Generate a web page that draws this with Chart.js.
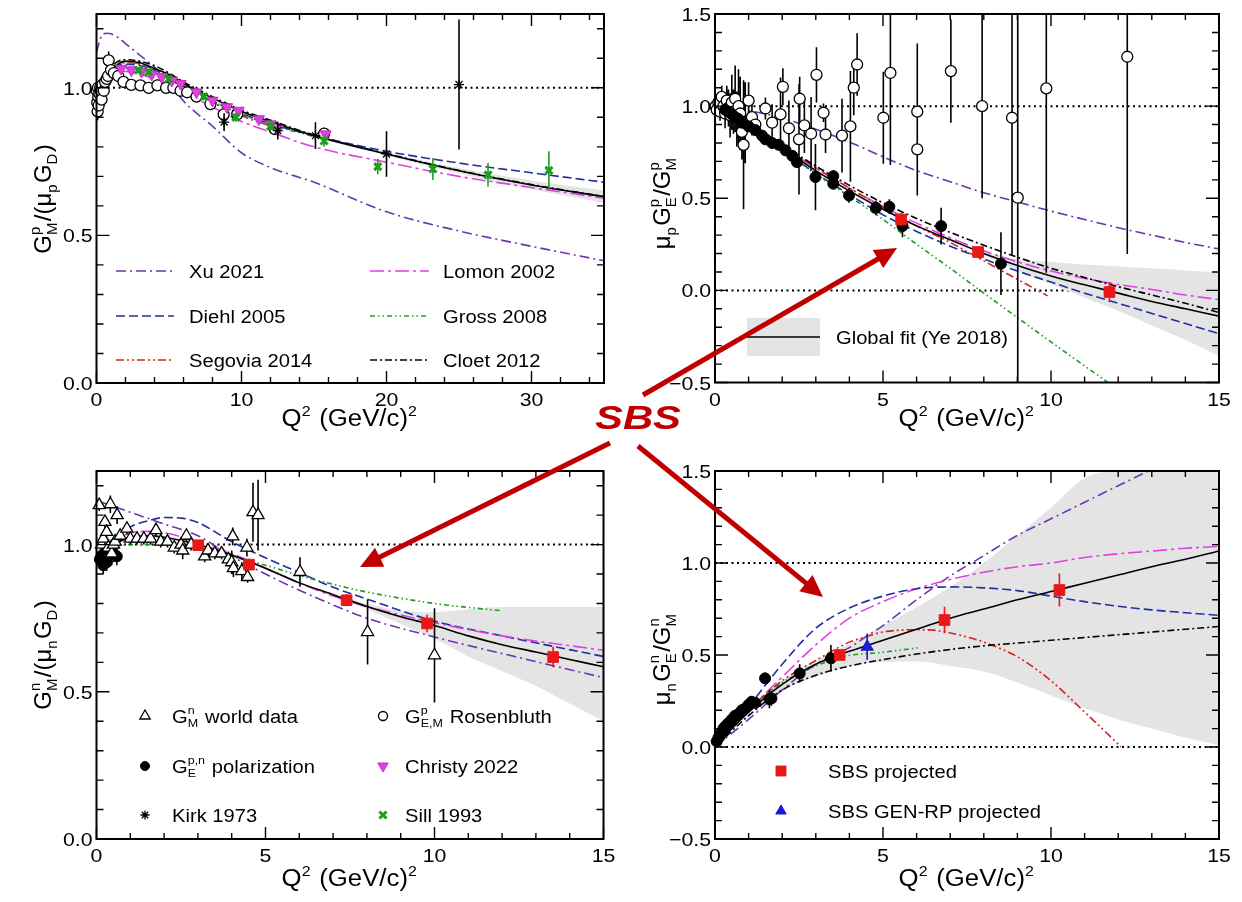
<!DOCTYPE html>
<html lang="en">
<head>
<meta charset="utf-8">
<title>Nucleon form factor ratios</title>
<script src="https://cdn.jsdelivr.net/npm/chart.js@4.4.1/dist/chart.umd.min.js"></script>
<style>
  html, body { margin: 0; padding: 0; background: #fff; }
  #page { position: relative; width: 1242px; height: 902px; overflow: hidden; background: #fff; }
  #page canvas, #page svg { position: absolute; left: 0; top: 0; }
</style>
</head>
<body>
<div id="page">
  <canvas id="gmp" width="1242" height="902"></canvas>
  <canvas id="rp" width="1242" height="902"></canvas>
  <canvas id="gmn" width="1242" height="902"></canvas>
  <canvas id="rn" width="1242" height="902"></canvas>
  <svg id="callout" width="1242" height="902" viewBox="0 0 1242 902"></svg>
</div>
<script>
// ================= Top-left: proton magnetic form factor G_M^p/(mu_p G_D) =================
const gmpCurveQ2 = [0, 0.5, 1, 1.5, 2, 3, 4, 5, 6, 8, 10, 12, 15, 20, 25, 30, 35];
const gmpGlobal  = [1.0, 1.03, 1.06, 1.08, 1.09, 1.085, 1.065, 1.045, 1.015, 0.965, 0.92, 0.885, 0.838, 0.776, 0.719, 0.671, 0.631];
const gmpBandHi  = [1.005, 1.035, 1.065, 1.085, 1.095, 1.09, 1.07, 1.05, 1.02, 0.97, 0.925, 0.89, 0.843, 0.782, 0.728, 0.686, 0.652];
const gmpBandLo  = [0.995, 1.025, 1.055, 1.075, 1.085, 1.08, 1.06, 1.04, 1.01, 0.96, 0.915, 0.88, 0.833, 0.77, 0.71, 0.656, 0.61];
const gmpCloet   = [1.0, 1.04, 1.07, 1.09, 1.095, 1.09, 1.075, 1.05, 1.02, 0.97, 0.925, 0.89, 0.84, 0.777, 0.72, 0.672, 0.632];
const gmpDiehl   = [1.0, 1.03, 1.06, 1.075, 1.08, 1.075, 1.06, 1.035, 1.005, 0.955, 0.912, 0.878, 0.838, 0.785, 0.745, 0.712, 0.68];
const gmpLomon   = [1.0, 1.03, 1.05, 1.055, 1.055, 1.045, 1.03, 1.01, 0.985, 0.935, 0.886, 0.85, 0.80, 0.748, 0.70, 0.662, 0.626];
const gmpGrossQ2 = [0, 0.5, 1, 1.5, 2, 3, 4, 5, 6, 8, 10, 12, 15];
const gmpGross   = [1.0, 1.04, 1.07, 1.085, 1.09, 1.08, 1.06, 1.04, 1.01, 0.955, 0.91, 0.875, 0.835];
const gmpSegoviaQ2 = [0, 0.5, 1, 1.5, 2, 3, 4, 5, 6, 8, 10, 12];
const gmpSegovia   = [1.0, 1.035, 1.065, 1.08, 1.085, 1.08, 1.06, 1.035, 1.0, 0.95, 0.905, 0.87];
const gmpXuQ2 = [0, 0.3, 0.7, 1, 1.5, 2, 3, 4, 5, 6, 8, 10, 12, 15, 20, 25, 30, 35];
const gmpXu   = [1.12, 1.17, 1.185, 1.183, 1.17, 1.15, 1.11, 1.07, 1.02, 0.955, 0.87, 0.78, 0.73, 0.68, 0.58, 0.515, 0.463, 0.414];

const gmpRosQ2 = [0.02, 0.05, 0.08, 0.1, 0.12, 0.15, 0.2, 0.25, 0.3, 0.35,
                  0.4, 0.5, 0.6, 0.7, 0.8, 0.84, 1.0, 1.2, 1.5, 1.86,
                  2.4, 3.03, 3.6, 4.2, 4.8, 5.3, 5.8, 6.25, 6.9, 7.86,
                  8.77, 9.7, 12.3, 15.7];
const gmpRos    = [0.99, 0.95, 0.92, 1.0, 0.97, 0.94, 0.98, 1.0, 0.99, 0.96,
                   1.01, 0.99, 1.02, 1.03, 1.04, 1.093, 1.06, 1.05, 1.04, 1.02,
                   1.01, 1.008, 1.0, 1.008, 1.0, 1.0, 0.99, 0.985, 0.97, 0.945,
                   0.91, 0.91, 0.86, 0.845];
const gmpRosErr = [0.01, 0.02, 0.03, 0.02, 0.02, 0.03, 0.02, 0.02, 0.02, 0.03,
                   0.02, 0.02, 0.02, 0.02, 0.02, 0.03, 0.02, 0.02, 0.015, 0.01,
                   0.01, 0.01, 0.01, 0.01, 0.01, 0.01, 0.01, 0.01, 0.01, 0.015,
                   0.02, 0.02, 0.02, 0.02];
const gmpChristyQ2 = [1.7, 2.4, 3.1, 3.8, 4.5, 5.2, 5.8, 6.9, 8.0, 9.0, 9.8, 11.2, 12.0, 12.5, 15.8];
const gmpChristy   = [1.065, 1.06, 1.055, 1.045, 1.037, 1.025, 1.014, 0.985, 0.957, 0.935, 0.923, 0.894, 0.877, 0.86, 0.843];
const gmpSillQ2  = [2.9, 3.6, 4.97, 7.4, 9.6, 12.0, 15.7, 19.4, 23.2, 27.0, 31.2];
const gmpSill    = [1.06, 1.054, 1.03, 0.97, 0.90, 0.87, 0.82, 0.733, 0.725, 0.705, 0.72];
const gmpSillErr = [0.01, 0.01, 0.01, 0.012, 0.015, 0.015, 0.02, 0.026, 0.037, 0.04, 0.065];
const gmpKirkQ2  = [8.8, 12.5, 15.1, 20.0, 25.0];
const gmpKirk    = [0.884, 0.855, 0.838, 0.776, 1.011];
const gmpKirkErr = [0.03, 0.03, 0.045, 0.077, 0.22];

// ================= Top-right: proton ratio mu_p G_E^p/G_M^p =================
const rpCurveQ2 = [0, 1, 2, 3, 4, 5, 6, 7, 8, 9, 10, 11, 12, 13, 14, 15];
const rpGlobal  = [1.0, 0.9, 0.775, 0.65, 0.54, 0.44, 0.35, 0.275, 0.2, 0.135, 0.078, 0.03, -0.015, -0.06, -0.1, -0.14];
const rpBandHi  = [1.005, 0.905, 0.78, 0.655, 0.545, 0.445, 0.355, 0.28, 0.21, 0.17, 0.155, 0.14, 0.13, 0.12, 0.108, 0.096];
const rpBandLo  = [0.995, 0.895, 0.77, 0.645, 0.535, 0.435, 0.345, 0.27, 0.19, 0.105, 0.035, -0.04, -0.11, -0.19, -0.27, -0.356];
const rpXu      = [1.0, 0.975, 0.935, 0.875, 0.805, 0.725, 0.65, 0.59, 0.53, 0.48, 0.43, 0.385, 0.34, 0.3, 0.26, 0.225];
const rpLomon   = [1.0, 0.9, 0.78, 0.665, 0.555, 0.455, 0.365, 0.285, 0.215, 0.155, 0.105, 0.065, 0.032, 0.005, -0.025, -0.05];
const rpDiehl   = [1.0, 0.89, 0.765, 0.635, 0.52, 0.41, 0.32, 0.24, 0.17, 0.105, 0.045, -0.015, -0.07, -0.125, -0.18, -0.235];
const rpCloet   = [1.0, 0.91, 0.79, 0.675, 0.57, 0.475, 0.39, 0.315, 0.245, 0.18, 0.12, 0.07, 0.02, -0.025, -0.07, -0.12];
const rpGrossQ2 = [0, 1, 2, 3, 4, 5, 6, 7, 8, 9, 10, 11, 11.7];
const rpGross   = [1.0, 0.88, 0.76, 0.63, 0.51, 0.385, 0.25, 0.12, -0.015, -0.148, -0.28, -0.41, -0.5];
const rpSegoviaQ2 = [0, 1, 2, 3, 4, 5, 6, 7, 8, 9, 9.9];
const rpSegovia   = [1.0, 0.9, 0.785, 0.665, 0.555, 0.45, 0.35, 0.26, 0.16, 0.06, -0.03];

const rpRosQ2 = [0.02, 0.05, 0.1, 0.15, 0.2, 0.25, 0.3, 0.35, 0.4, 0.45,
                 0.5, 0.55, 0.6, 0.65, 0.7, 0.75, 0.8, 0.85, 0.9, 1.0,
                 1.1, 1.2, 1.5, 1.7, 1.95, 2.02, 2.2, 2.5, 2.52, 2.66,
                 2.86, 3.02, 3.23, 3.29, 3.78, 4.03, 4.13, 4.23, 5.01, 5.22,
                 6.02, 6.02, 7.02, 7.95, 8.84, 9.01, 9.86, 12.27];
const rpRos    = [1.0, 0.98, 1.02, 0.97, 1.05, 1.0, 0.96, 1.03, 0.99, 0.95,
                  1.02, 0.97, 1.04, 0.93, 1.0, 0.96, 0.86, 0.79, 0.91, 1.03,
                  0.94, 0.9, 0.987, 0.91, 0.955, 1.105, 0.88, 0.82, 1.04, 0.895,
                  0.85, 1.17, 0.964, 0.846, 0.84, 0.89, 1.10, 1.226, 0.937, 1.18,
                  0.97, 0.765, 1.19, 1.0, 0.937, 0.503, 1.096, 1.268];
const rpRosErr = [0.02, 0.03, 0.04, 0.05, 0.06, 0.05, 0.08, 0.08, 0.1, 0.12,
                  0.15, 0.12, 0.18, 0.15, 0.2, 0.2, 0.15, 0.35, 0.22, 0.1,
                  0.1, 0.06, 0.06, 0.1, 0.2, 0.1, 0.15, 0.3, 0.12, 0.15,
                  0.2, 0.15, 0.05, 0.1, 0.2, 0.3, 0.15, 0.17, 0.25, 0.5,
                  0.37, 0.25, 0.28, 0.5, 0.75, 3.0, 1.0, 1.07];
const rpPolQ2  = [0.3, 0.4, 0.5, 0.6, 0.7, 0.8, 1.0, 1.2, 1.4, 1.5,
                  1.7, 1.9, 2.1, 2.3, 2.44, 2.99, 3.52, 3.52, 3.99, 4.79,
                  5.19, 5.58, 6.73, 8.51];
const rpPol    = [0.98, 0.97, 0.955, 0.94, 0.93, 0.91, 0.89, 0.87, 0.84, 0.82,
                  0.80, 0.79, 0.76, 0.73, 0.696, 0.615, 0.62, 0.579, 0.515, 0.448,
                  0.454, 0.349, 0.349, 0.145];
const rpPolErr = [0.02, 0.02, 0.02, 0.03, 0.03, 0.02, 0.02, 0.02, 0.02, 0.02,
                  0.03, 0.03, 0.03, 0.03, 0.03, 0.18, 0.03, 0.03, 0.04, 0.04,
                  0.04, 0.06, 0.1, 0.17];
const rpSbsQ2  = [5.54, 7.83, 11.74];
const rpSbs    = [0.385, 0.208, -0.009];
const rpSbsErr = [0.035, 0.03, 0.055];

// ================= Bottom-left: neutron magnetic form factor G_M^n/(mu_n G_D) =================
const gmnCurveQ2 = [0, 0.5, 1, 1.5, 2, 3, 4, 5, 6, 7, 8, 9, 10, 11, 12, 13, 14, 15];
const gmnGlobal  = [0.97, 1.0, 1.025, 1.03, 1.025, 1.0, 0.965, 0.92, 0.87, 0.83, 0.79, 0.755, 0.725, 0.69, 0.66, 0.635, 0.61, 0.585];
const gmnBandHi  = [0.975, 1.005, 1.03, 1.035, 1.03, 1.005, 0.97, 0.925, 0.875, 0.835, 0.80, 0.775, 0.77, 0.78, 0.788, 0.788, 0.788, 0.788];
const gmnBandLo  = [0.965, 0.995, 1.02, 1.025, 1.02, 0.995, 0.96, 0.915, 0.865, 0.825, 0.78, 0.73, 0.68, 0.62, 0.57, 0.52, 0.46, 0.40];
const gmnXuQ2 = [0, 0.5, 1, 2, 3, 4, 5, 6, 7, 8, 10, 12, 15];
const gmnXu   = [1.15, 1.13, 1.11, 1.07, 1.03, 0.96, 0.9, 0.845, 0.795, 0.75, 0.686, 0.63, 0.548];
const gmnDiehlQ2 = [0, 0.5, 1, 1.5, 2, 2.5, 3, 4, 5, 6, 7, 8, 10, 12, 15];
const gmnDiehl   = [0.97, 1.02, 1.06, 1.08, 1.092, 1.09, 1.075, 1.01, 0.955, 0.905, 0.855, 0.815, 0.74, 0.69, 0.62];
const gmnLomonQ2 = [0, 0.5, 1, 1.5, 2, 3, 4, 5, 6, 7, 8, 10, 12, 15];
const gmnLomon   = [0.97, 1.01, 1.04, 1.045, 1.04, 1.01, 0.97, 0.92, 0.87, 0.825, 0.79, 0.735, 0.69, 0.641];
const gmnGrossQ2 = [0, 0.5, 1, 2, 3, 4, 5, 6, 7, 8, 10, 12];
const gmnGross   = [0.96, 0.99, 1.0, 1.0, 0.99, 0.96, 0.93, 0.895, 0.865, 0.839, 0.80, 0.775];

const gmnWorldQ2 = [0.08, 0.15, 0.2, 0.25, 0.3, 0.35, 0.41, 0.45, 0.5, 0.55,
                    0.61, 0.7, 0.9, 1.0, 1.2, 1.4, 1.6, 1.76, 1.9, 2.1,
                    2.3, 2.5, 2.55, 2.66, 2.8, 3.2, 3.3, 3.5, 3.7, 3.9,
                    4.0, 4.03, 4.05, 4.3, 4.45, 4.47, 4.63, 4.78, 6.02, 8.02,
                    10.0];
const gmnWorld    = [1.134, 1.0, 1.02, 1.077, 1.043, 0.99, 1.137, 0.97, 1.0, 1.01,
                     1.10, 1.03, 1.054, 1.02, 1.02, 1.02, 1.02, 1.049, 1.01, 1.01,
                     0.99, 1.0, 0.98, 1.03, 1.0, 0.96, 0.98, 0.97, 0.97, 0.95,
                     0.94, 1.028, 0.92, 0.91, 0.99, 0.89, 1.11, 1.10, 0.907, 0.703,
                     0.624];
const gmnWorldErr = [0.02, 0.02, 0.02, 0.02, 0.02, 0.03, 0.03, 0.04, 0.02, 0.02,
                     0.03, 0.02, 0.02, 0.02, 0.02, 0.02, 0.02, 0.02, 0.02, 0.02,
                     0.02, 0.02, 0.03, 0.02, 0.02, 0.02, 0.02, 0.02, 0.02, 0.02,
                     0.04, 0.03, 0.03, 0.03, 0.03, 0.02, 0.1, 0.12, 0.05, 0.11,
                     0.16];
const gmnPolQ2  = [0.1, 0.15, 0.2, 0.25, 0.3, 0.35, 0.4, 0.5, 0.6];
const gmnPol    = [0.95, 0.96, 0.93, 0.97, 0.94, 0.96, 0.98, 0.97, 0.96];
const gmnPolErr = [0.03, 0.03, 0.03, 0.03, 0.03, 0.03, 0.03, 0.03, 0.03];
const gmnSbsQ2  = [3.01, 4.51, 7.4, 9.78, 13.51];
const gmnSbs    = [0.998, 0.932, 0.811, 0.732, 0.618];
const gmnSbsErr = [0.015, 0.02, 0.02, 0.03, 0.035];

// ================= Bottom-right: neutron ratio mu_n G_E^n/G_M^n =================
const rnCurveQ2 = [0, 0.5, 1, 1.5, 2, 2.5, 3, 4, 5, 6, 7, 8, 9, 10, 11, 12, 13, 14, 15];
const rnGlobal  = [0, 0.1, 0.19, 0.27, 0.34, 0.4, 0.45, 0.52, 0.58, 0.64, 0.7, 0.75, 0.8, 0.845, 0.89, 0.935, 0.98, 1.02, 1.065];
const rnBandHi  = [0, 0.1, 0.2, 0.29, 0.36, 0.42, 0.47, 0.56, 0.66, 0.76, 0.87, 1.0, 1.15, 1.3, 1.46, 1.5, 1.5, 1.5, 1.5];
const rnBandLo  = [0, 0.1, 0.18, 0.25, 0.3, 0.35, 0.38, 0.44, 0.46, 0.464, 0.44, 0.41, 0.35, 0.28, 0.21, 0.15, 0.1, 0.05, 0.01];
const rnModelQ2 = [0, 1, 2, 3, 4, 5, 6, 7, 8, 9, 10, 11, 12, 13, 14, 15];
const rnLomon   = [0, 0.2, 0.38, 0.555, 0.70, 0.79, 0.86, 0.91, 0.95, 0.98, 1.0, 1.03, 1.05, 1.065, 1.08, 1.09];
const rnDiehl   = [0, 0.22, 0.45, 0.645, 0.755, 0.82, 0.86, 0.87, 0.865, 0.85, 0.82, 0.79, 0.765, 0.745, 0.73, 0.715];
const rnCloet   = [0, 0.17, 0.31, 0.39, 0.44, 0.475, 0.505, 0.53, 0.55, 0.565, 0.58, 0.595, 0.61, 0.625, 0.64, 0.655];
const rnXuQ2 = [0, 1, 2, 3, 4, 4.5, 5, 6, 7, 7.7, 8, 9, 10, 11, 12, 12.9];
const rnXu   = [0, 0.15, 0.31, 0.45, 0.54, 0.6, 0.66, 0.8, 0.93, 1.007, 1.04, 1.15, 1.24, 1.33, 1.42, 1.5];
const rnSegoviaQ2 = [0, 1, 2, 3, 4, 4.5, 5, 6, 6.5, 7, 8, 9, 10, 11, 12, 12.08];
const rnSegovia   = [0, 0.2, 0.36, 0.47, 0.57, 0.6, 0.625, 0.637, 0.635, 0.62, 0.57, 0.49, 0.36, 0.19, 0.015, 0];
const rnGrossQ2 = [0, 1, 2, 3, 3.76, 5, 6.04];
const rnGross   = [0, 0.2, 0.35, 0.44, 0.49, 0.515, 0.539];

const rnPolQ2  = [0.05, 0.1, 0.15, 0.2, 0.25, 0.3, 0.35, 0.4, 0.5, 0.6,
                  0.7, 0.8, 0.9, 1.0, 1.09, 1.2, 1.49, 1.62, 1.68, 2.52,
                  3.45];
const rnPol    = [0.03, 0.05, 0.06, 0.08, 0.1, 0.11, 0.12, 0.13, 0.15, 0.17,
                  0.18, 0.2, 0.21, 0.23, 0.246, 0.24, 0.373, 0.26, 0.264, 0.40,
                  0.482];
const rnPolErr = [0.02, 0.02, 0.03, 0.02, 0.03, 0.03, 0.02, 0.03, 0.03, 0.03,
                  0.02, 0.03, 0.02, 0.03, 0.03, 0.03, 0.03, 0.05, 0.04, 0.05,
                  0.072];
const rnSbsQ2  = [3.71, 6.83, 10.25];
const rnSbs    = [0.5, 0.69, 0.853];
const rnSbsErr = [0.02, 0.072, 0.09];
const rnGenRpQ2  = [4.53];
const rnGenRp    = [0.545];
const rnGenRpErr = [0.072];

// ================= drawing setup =================
const W = 1242, H = 902;
const FONT = '"Liberation Sans", Arial, Helvetica, sans-serif';
const BAND = '#e4e4e4';
const XU      = { color: '#6f35b0', dash: [10, 4, 2, 4] };
const LOMON   = { color: '#e040e0', dash: [14, 4, 3, 4] };
const DIEHL   = { color: '#1f2f9f', dash: [9, 4] };
const GROSS   = { color: '#1e9e1e', dash: [5, 3, 1.5, 3, 1.5, 3] };
const SEGOVIA = { color: '#d42020', dash: [8, 3, 2, 3, 2, 3] };
const CLOET   = { color: '#000000', dash: [7, 3, 2, 3] };
const GLOBAL  = { color: '#000000', dash: [] };

const OPEN_CIRCLE = { style: 'circle', r: 5.5, fill: '#ffffff', stroke: '#000000', lw: 1.3 };
const FILLED_DOT  = { style: 'circle', r: 5.5, fill: '#000000', stroke: '#000000', lw: 1 };
const OPEN_TRI    = { style: 'triangle', r: 7, fill: '#ffffff', stroke: '#000000', lw: 1.3 };
const CHRISTY     = { style: 'triangle', r: 6.5, rot: 180, fill: '#e040e0', stroke: '#c030c0', lw: 1 };
const KIRK        = { style: 'star', r: 5, fill: '#000000', stroke: '#000000', lw: 1.3 };
const SILL        = { style: 'crossRot', r: 5, fill: '#1e9e1e', stroke: '#1e9e1e', lw: 3 };
const SBS_SQ      = { style: 'rect', r: 7.5, fill: '#e81818', stroke: '#e81818', lw: 1 };
const GENRP_TRI   = { style: 'triangle', r: 7, fill: '#1a1ad0', stroke: '#1a1ad0', lw: 1 };

const pts = (xs, ys) => xs.map((x, i) => ({ x, y: ys[i] }));

function curve(xs, ys, st) {
  return { data: pts(xs, ys), borderColor: st.color, borderWidth: 1.6, borderDash: st.dash,
           pointRadius: 0, fill: false, cubicInterpolationMode: 'monotone' };
}
function band(xs, hi, lo) {
  const common = { borderWidth: 0, borderColor: 'rgba(0,0,0,0)', pointRadius: 0, cubicInterpolationMode: 'monotone' };
  return [
    Object.assign({ data: pts(xs, hi), fill: '+1', backgroundColor: BAND }, common),
    Object.assign({ data: pts(xs, lo), fill: false }, common)
  ];
}
function markers(xs, ys, errs, st) {
  return { data: pts(xs, ys), showLine: false, pointStyle: st.style, pointRadius: st.r,
           pointRotation: st.rot || 0, pointBackgroundColor: st.fill, pointBorderColor: st.stroke,
           borderColor: st.stroke, pointBorderWidth: st.lw, clip: 8,
           errY: errs, errColor: st.stroke };
}
function guide(x0, x1, y) {
  return { data: [{ x: x0, y }, { x: x1, y }], borderColor: '#000', borderWidth: 2,
           borderDash: [2, 3.5], pointRadius: 0, fill: false };
}

// Text with sub/superscripts. Plain strings are normal text; {sup, sub} objects are stacked scripts.
function drawRich(ctx, parts, x, y, size, align, sx) {
  sx = sx || 1;
  const small = size * 0.62;
  const segs = parts.map(p => {
    if (typeof p === 'string') { ctx.font = size + 'px ' + FONT; return { t: p, w: ctx.measureText(p).width }; }
    ctx.font = small + 'px ' + FONT;
    const w = Math.max(p.sup ? ctx.measureText(p.sup).width : 0, p.sub ? ctx.measureText(p.sub).width : 0) + size * 0.06;
    return { sup: p.sup, sub: p.sub, w };
  });
  const total = segs.reduce((s, g) => s + g.w, 0);
  let cx = align === 'center' ? -total / 2 : (align === 'right' ? -total : 0);
  ctx.save();
  ctx.translate(x, y); ctx.scale(sx, 1);
  ctx.textAlign = 'left'; ctx.textBaseline = 'alphabetic';
  for (const g of segs) {
    if (g.t !== undefined) { ctx.font = size + 'px ' + FONT; ctx.fillText(g.t, cx, 0); }
    else {
      ctx.font = small + 'px ' + FONT;
      if (g.sup) ctx.fillText(g.sup, cx, -size * 0.45);
      if (g.sub) ctx.fillText(g.sub, cx, size * 0.26);
    }
    cx += g.w;
  }
  ctx.restore();
}

function drawMarker(ctx, m, x, y) {
  ctx.save();
  ctx.translate(x, y);
  ctx.lineWidth = m.lw; ctx.strokeStyle = m.stroke; ctx.fillStyle = m.fill;
  const r = m.r;
  ctx.beginPath();
  if (m.style === 'circle') ctx.arc(0, 0, r, 0, Math.PI * 2);
  else if (m.style === 'triangle' && m.rot === 180) { ctx.moveTo(0, r); ctx.lineTo(r * 0.866, -r * 0.5); ctx.lineTo(-r * 0.866, -r * 0.5); ctx.closePath(); }
  else if (m.style === 'triangle') { ctx.moveTo(0, -r); ctx.lineTo(r * 0.866, r * 0.5); ctx.lineTo(-r * 0.866, r * 0.5); ctx.closePath(); }
  else if (m.style === 'rect') { const s = r * 0.707; ctx.rect(-s, -s, 2 * s, 2 * s); }
  if (m.style === 'star') {
    for (let k = 0; k < 4; k++) { const a = k * Math.PI / 4; ctx.moveTo(-r * Math.cos(a), -r * Math.sin(a)); ctx.lineTo(r * Math.cos(a), r * Math.sin(a)); }
    ctx.stroke();
  } else if (m.style === 'crossRot') {
    const s = r * 0.707; ctx.moveTo(-s, -s); ctx.lineTo(s, s); ctx.moveTo(s, -s); ctx.lineTo(-s, s); ctx.stroke();
  } else { ctx.fill(); ctx.stroke(); }
  ctx.restore();
}

const decoById = {};
const fmtY = v => (v < 0 ? '\u2212' : '') + Math.abs(v).toFixed(1);
const tickValues = (min, max, step) => {
  const out = [];
  for (let k = Math.ceil(min / step - 1e-9); k <= Math.floor(max / step + 1e-9); k++) out.push(k * step);
  return out;
};
const isMajor = (v, m) => Math.abs(v / m - Math.round(v / m)) < 1e-6;

// Vertical error bars, drawn just beneath each marker dataset
const errorBarPlugin = {
  id: 'errorBars',
  beforeDatasetDraw(chart, args) {
    const ds = chart.data.datasets[args.index];
    if (!ds.errY) return;
    const { ctx, chartArea: a, scales: { x, y } } = chart;
    ctx.save();
    ctx.beginPath(); ctx.rect(a.left, a.top, a.right - a.left, a.bottom - a.top); ctx.clip();
    ctx.strokeStyle = ds.errColor; ctx.lineWidth = 1.6;
    ctx.beginPath();
    ds.data.forEach((p, i) => {
      const e = ds.errY[i];
      if (!e) return;
      const px = x.getPixelForValue(p.x);
      ctx.moveTo(px, y.getPixelForValue(p.y - e));
      ctx.lineTo(px, y.getPixelForValue(p.y + e));
    });
    ctx.stroke();
    ctx.restore();
  }
};

// Frame with inward ticks on all sides, tick labels, axis titles and in-plot legend
const framePlugin = {
  id: 'rootFrame',
  beforeDatasetsDraw(chart) {
    const d = decoById[chart.canvas.id];
    const { ctx, chartArea: a, scales: { x, y } } = chart;
    ctx.save();
    ctx.fillStyle = '#000';
    for (const v of d.xLabels) drawRich(ctx, [String(v)], x.getPixelForValue(v), a.bottom + 23, 19, 'center', 1.12);
    for (const v of d.yLabels) drawRich(ctx, [fmtY(v)], a.left - 4, y.getPixelForValue(v) + 7, 19, 'right', 1.12);
    const xt = [ 'Q', { sup: '2' }, ' (GeV/c)', { sup: '2' } ];
    drawRich(ctx, xt, d.xTitle[0], d.xTitle[1] + 8, 23, 'center', 1.12);
    ctx.translate(d.yTitle[0], d.yTitle[1]);
    ctx.rotate(-Math.PI / 2);
    drawRich(ctx, d.yTitle[2], 0, 8, 24, 'center', 1);
    ctx.restore();
  },
  afterDatasetsDraw(chart) {
    const d = decoById[chart.canvas.id];
    const { ctx, chartArea: a, scales: { x, y } } = chart;
    ctx.save();
    ctx.strokeStyle = '#000'; ctx.lineWidth = 1.4;
    ctx.beginPath();
    for (const v of tickValues(x.min, x.max, d.xMinor)) {
      const px = x.getPixelForValue(v), len = isMajor(v, d.xMajor) ? 12 : 6;
      ctx.moveTo(px, a.bottom); ctx.lineTo(px, a.bottom - len);
      ctx.moveTo(px, a.top); ctx.lineTo(px, a.top + len);
    }
    for (const v of tickValues(y.min, y.max, d.yMinor)) {
      const py = y.getPixelForValue(v), len = isMajor(v, d.yMajor) ? 13 : 7;
      ctx.moveTo(a.left, py); ctx.lineTo(a.left + len, py);
      ctx.moveTo(a.right, py); ctx.lineTo(a.right - len, py);
    }
    ctx.stroke();
    ctx.lineWidth = 2;
    ctx.strokeRect(a.left, a.top, a.right - a.left, a.bottom - a.top);
    for (const e of d.legend) {
      if (e.box) { ctx.fillStyle = BAND; ctx.fillRect(e.box[0], e.box[1], e.box[2] - e.box[0], e.box[3] - e.box[1]); }
      if (e.line) {
        ctx.save();
        ctx.strokeStyle = e.line.color; ctx.lineWidth = 1.6; ctx.setLineDash(e.line.dash);
        ctx.beginPath(); ctx.moveTo(e.x1, e.y); ctx.lineTo(e.x2, e.y); ctx.stroke();
        ctx.restore();
      }
      if (e.mark) drawMarker(ctx, e.mark, e.mx, e.y);
      ctx.fillStyle = '#000';
      drawRich(ctx, e.text, e.tx, e.y + 6.5, 18, 'left', 1.12);
    }
    ctx.restore();
  }
};

function panel(id, area, xRange, yRange, datasets, deco) {
  decoById[id] = deco;
  return new Chart(document.getElementById(id), {
    type: 'line',
    data: { datasets },
    options: {
      responsive: false, animation: false, devicePixelRatio: 1, events: [],
      layout: { padding: { left: area.l, top: area.t, right: W - area.r, bottom: H - area.b } },
      scales: {
        x: { type: 'linear', min: xRange[0], max: xRange[1], display: false },
        y: { type: 'linear', min: yRange[0], max: yRange[1], display: false }
      },
      plugins: { legend: { display: false }, tooltip: { enabled: false } }
    },
    plugins: [errorBarPlugin, framePlugin]
  });
}

// Datasets are listed top-most first (Chart.js paints the list in reverse).
panel('gmp', { l: 96.5, t: 14, r: 604, b: 383 }, [0, 35], [0, 1.25], [
  markers(gmpKirkQ2, gmpKirk, gmpKirkErr, KIRK),
  markers(gmpSillQ2, gmpSill, gmpSillErr, SILL),
  markers(gmpChristyQ2, gmpChristy, null, CHRISTY),
  markers(gmpRosQ2, gmpRos, gmpRosErr, OPEN_CIRCLE),
  curve(gmpCurveQ2, gmpGlobal, GLOBAL),
  curve(gmpCurveQ2, gmpCloet, CLOET),
  curve(gmpCurveQ2, gmpDiehl, DIEHL),
  curve(gmpCurveQ2, gmpLomon, LOMON),
  curve(gmpGrossQ2, gmpGross, GROSS),
  curve(gmpSegoviaQ2, gmpSegovia, SEGOVIA),
  curve(gmpXuQ2, gmpXu, XU),
  ...band(gmpCurveQ2, gmpBandHi, gmpBandLo),
  guide(0, 35, 1)
], {
  xMinor: 2, xMajor: 10, yMinor: 0.1, yMajor: 0.5, xLabels: [0, 10, 20, 30], yLabels: [0, 0.5, 1],
  xTitle: [350, 418], yTitle: [43, 199, ['G', { sup: 'p', sub: 'M' }, '/(\u03bc', { sub: 'p' }, 'G', { sub: 'D' }, ')']],
  legend: [
    { line: XU, x1: 116, x2: 174, y: 271, tx: 189, text: ['Xu 2021'] },
    { line: LOMON, x1: 370, x2: 429, y: 271, tx: 443, text: ['Lomon 2002'] },
    { line: DIEHL, x1: 116, x2: 174, y: 316, tx: 189, text: ['Diehl 2005'] },
    { line: GROSS, x1: 370, x2: 429, y: 316, tx: 443, text: ['Gross 2008'] },
    { line: SEGOVIA, x1: 116, x2: 174, y: 360, tx: 189, text: ['Segovia 2014'] },
    { line: CLOET, x1: 370, x2: 429, y: 360, tx: 443, text: ['Cloet 2012'] }
  ]
});

panel('rp', { l: 715, t: 14, r: 1219, b: 382.5 }, [0, 15], [-0.5, 1.5], [
  markers(rpSbsQ2, rpSbs, rpSbsErr, SBS_SQ),
  markers(rpPolQ2, rpPol, rpPolErr, FILLED_DOT),
  markers(rpRosQ2, rpRos, rpRosErr, OPEN_CIRCLE),
  curve(rpCurveQ2, rpGlobal, GLOBAL),
  curve(rpCurveQ2, rpCloet, CLOET),
  curve(rpSegoviaQ2, rpSegovia, SEGOVIA),
  curve(rpGrossQ2, rpGross, GROSS),
  curve(rpCurveQ2, rpDiehl, DIEHL),
  curve(rpCurveQ2, rpLomon, LOMON),
  curve(rpCurveQ2, rpXu, XU),
  ...band(rpCurveQ2, rpBandHi, rpBandLo),
  guide(0, 15, 1),
  guide(0, 15, 0)
], {
  xMinor: 1, xMajor: 5, yMinor: 0.1, yMajor: 0.5, xLabels: [0, 5, 10, 15], yLabels: [-0.5, 0, 0.5, 1, 1.5],
  xTitle: [967, 418], yTitle: [662, 203, ['\u03bc', { sub: 'p' }, 'G', { sup: 'p', sub: 'E' }, '/G', { sup: 'p', sub: 'M' }]],
  legend: [
    { box: [747, 318, 820, 356], line: GLOBAL, x1: 747, x2: 820, y: 337, tx: 836, text: ['Global fit (Ye 2018)'] }
  ]
});

panel('gmn', { l: 96.5, t: 471, r: 603.5, b: 839 }, [0, 15], [0, 1.25], [
  markers(gmnSbsQ2, gmnSbs, gmnSbsErr, SBS_SQ),
  markers(gmnWorldQ2, gmnWorld, gmnWorldErr, OPEN_TRI),
  markers(gmnPolQ2, gmnPol, gmnPolErr, FILLED_DOT),
  curve(gmnCurveQ2, gmnGlobal, GLOBAL),
  curve(gmnGrossQ2, gmnGross, GROSS),
  curve(gmnLomonQ2, gmnLomon, LOMON),
  curve(gmnDiehlQ2, gmnDiehl, DIEHL),
  curve(gmnXuQ2, gmnXu, XU),
  ...band(gmnCurveQ2, gmnBandHi, gmnBandLo),
  guide(0, 15, 1)
], {
  xMinor: 1, xMajor: 5, yMinor: 0.1, yMajor: 0.5, xLabels: [0, 5, 10, 15], yLabels: [0, 0.5, 1],
  xTitle: [350, 878], yTitle: [43, 655, ['G', { sup: 'n', sub: 'M' }, '/(\u03bc', { sub: 'n' }, 'G', { sub: 'D' }, ')']],
  legend: [
    { mark: { style: 'triangle', r: 6, fill: '#ffffff', stroke: '#000', lw: 1.3 }, mx: 145, y: 716, tx: 172, text: ['G', { sup: 'n', sub: 'M' }, ' world data'] },
    { mark: { style: 'circle', r: 4.5, fill: '#ffffff', stroke: '#000', lw: 1.3 }, mx: 383, y: 716, tx: 405, text: ['G', { sup: 'p', sub: 'E,M' }, ' Rosenbluth'] },
    { mark: { style: 'circle', r: 4.5, fill: '#000', stroke: '#000', lw: 1 }, mx: 145, y: 766, tx: 172, text: ['G', { sup: 'p,n', sub: 'E' }, ' polarization'] },
    { mark: { style: 'triangle', rot: 180, r: 6, fill: '#e040e0', stroke: '#c030c0', lw: 1 }, mx: 383, y: 766, tx: 405, text: ['Christy 2022'] },
    { mark: { style: 'star', r: 4.5, fill: '#000', stroke: '#000', lw: 1.3 }, mx: 145, y: 815, tx: 172, text: ['Kirk 1973'] },
    { mark: { style: 'crossRot', r: 5, fill: '#1e9e1e', stroke: '#1e9e1e', lw: 3 }, mx: 383, y: 815, tx: 405, text: ['Sill 1993'] }
  ]
});

panel('rn', { l: 715, t: 471, r: 1219, b: 839 }, [0, 15], [-0.5, 1.5], [
  markers(rnSbsQ2, rnSbs, rnSbsErr, SBS_SQ),
  markers(rnGenRpQ2, rnGenRp, rnGenRpErr, GENRP_TRI),
  markers(rnPolQ2, rnPol, rnPolErr, FILLED_DOT),
  curve(rnCurveQ2, rnGlobal, GLOBAL),
  curve(rnModelQ2, rnCloet, CLOET),
  curve(rnSegoviaQ2, rnSegovia, SEGOVIA),
  curve(rnGrossQ2, rnGross, GROSS),
  curve(rnModelQ2, rnDiehl, DIEHL),
  curve(rnModelQ2, rnLomon, LOMON),
  curve(rnXuQ2, rnXu, XU),
  ...band(rnCurveQ2, rnBandHi, rnBandLo),
  guide(0, 15, 1),
  guide(0, 15, 0)
], {
  xMinor: 1, xMajor: 5, yMinor: 0.1, yMajor: 0.5, xLabels: [0, 5, 10, 15], yLabels: [-0.5, 0, 0.5, 1, 1.5],
  xTitle: [967, 878], yTitle: [662, 659, ['\u03bc', { sub: 'n' }, 'G', { sup: 'n', sub: 'E' }, '/G', { sup: 'n', sub: 'M' }]],
  legend: [
    { mark: { style: 'rect', r: 7, fill: '#e81818', stroke: '#e81818', lw: 1 }, mx: 781, y: 771, tx: 828, text: ['SBS projected'] },
    { mark: { style: 'triangle', r: 6, fill: '#1a1ad0', stroke: '#1a1ad0', lw: 1 }, mx: 781, y: 811, tx: 828, text: ['SBS GEN-RP projected'] }
  ]
});

// Central "SBS" call-out with arrows pointing into three of the panels
(function () {
  const NS = 'http://www.w3.org/2000/svg';
  const svg = document.getElementById('callout');
  const red = '#c00000';
  const arrows = [
    { from: [643, 395], to: [897, 248] },
    { from: [610, 443], to: [360, 567] },
    { from: [638, 446], to: [823, 597] }
  ];
  for (const a of arrows) {
    const [x0, y0] = a.from, [x1, y1] = a.to;
    const L = Math.hypot(x1 - x0, y1 - y0), ux = (x1 - x0) / L, uy = (y1 - y0) / L;
    const hl = 22, hw = 10.5;
    const bx = x1 - ux * hl, by = y1 - uy * hl;
    const ln = document.createElementNS(NS, 'line');
    ln.setAttribute('x1', x0); ln.setAttribute('y1', y0);
    ln.setAttribute('x2', bx + ux * 2); ln.setAttribute('y2', by + uy * 2);
    ln.setAttribute('stroke', red); ln.setAttribute('stroke-width', 5);
    svg.appendChild(ln);
    const head = document.createElementNS(NS, 'polygon');
    head.setAttribute('points', `${x1},${y1} ${bx - uy * hw},${by + ux * hw} ${bx + uy * hw},${by - ux * hw}`);
    head.setAttribute('fill', red);
    svg.appendChild(head);
  }
  const t = document.createElementNS(NS, 'text');
  t.setAttribute('x', 638); t.setAttribute('y', 429);
  t.setAttribute('text-anchor', 'middle');
  t.setAttribute('font-family', 'Liberation Sans, Arial, sans-serif');
  t.setAttribute('font-weight', 'bold'); t.setAttribute('font-style', 'italic');
  t.setAttribute('font-size', 33);
  t.setAttribute('textLength', 86); t.setAttribute('lengthAdjust', 'spacingAndGlyphs');
  t.setAttribute('fill', red);
  t.textContent = 'SBS';
  svg.appendChild(t);
})();
</script>
</body>
</html>
